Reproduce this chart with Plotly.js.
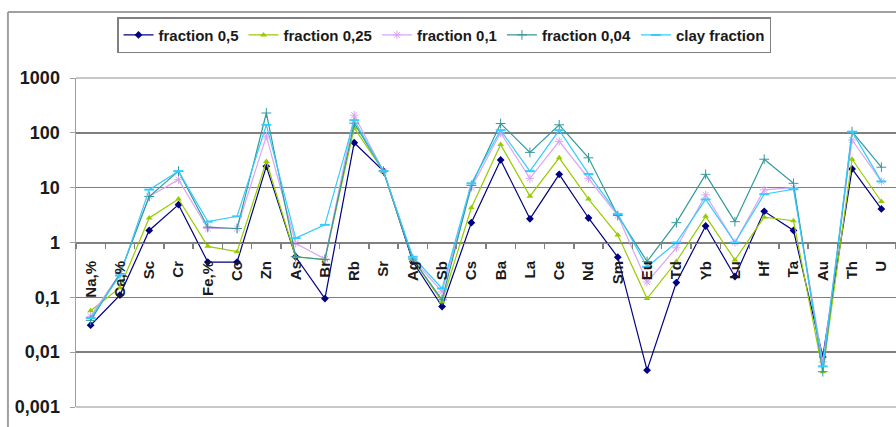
<!DOCTYPE html>
<html>
<head>
<meta charset="utf-8">
<script src="https://cdn.plot.ly/plotly-3.0.1.min.js"></script>
<style>html,body{margin:0;padding:0;background:#fff;}#chart{width:896px;height:427px;}</style>
</head>
<body>
<div id="chart"></div>
<script>
var categories = ["Na,%","Ca,%","Sc","Cr","Fe,%","Co","Zn","As","Br","Rb","Sr","Ag","Sb","Cs","Ba","La","Ce","Nd","Sm","Eu","Td","Yb","Lu","Hf","Ta","Au","Th","U"];
var frac05  = [0.031,0.11,1.66,4.9,0.44,0.44,24.5,0.55,0.095,66,20,0.45,0.068,2.3,32,2.7,17.5,2.8,0.54,0.0047,0.186,2.0,0.24,3.7,1.66,0.0082,22,4.1];
var frac025 = [0.057,0.15,2.8,6.2,0.85,0.68,30,0.55,0.49,123,20,0.5,0.083,4.3,61,7,35,6.2,1.37,0.095,0.45,3.0,0.48,2.9,2.5,0.0044,33,5.6];
var frac01  = [0.045,0.27,6.9,14,1.8,1.8,87,0.97,0.5,210,20,0.5,0.126,10,100,14.8,70,14.8,3.1,0.19,0.8,7.4,1.0,9.1,10,0.0066,74,13];
var frac004 = [0.038,0.27,6.9,20,1.9,1.8,230,0.55,0.49,150,20,0.5,0.09,11,148,44,140,35,3.1,0.45,2.3,17.5,2.4,33,12,0.0044,105,23.6];
var clay    = [0.042,0.25,9.2,20,2.4,3.0,140,1.2,2.1,170,20,0.55,0.145,12,112,20,112,17.8,3.3,0.36,1.0,6.1,1.0,7.6,9.4,0.0055,105,13];
var seriesNames = ["fraction 0,5","fraction 0,25","fraction 0,1","fraction 0,04","clay fraction"];
var yTickVals = [0.001,0.01,0.1,1,10,100,1000];
var yTickText = ["0,001","0,01","0,1","1","10","100","1000"];

var FONT = "Liberation Sans, Arial, sans-serif";
function tr(name, y, color, symbol, size, lw) {
  return {
    type: "scatter", mode: "lines+markers", name: name,
    x: categories, y: y,
    line: {color: color, width: 1.2},
    marker: {symbol: symbol, size: size, color: color, line: {color: color, width: lw}}
  };
}
var data = [
  tr(seriesNames[0], frac05, "#000080", "diamond", 6, 0),
  tr(seriesNames[1], frac025, "#99CC00", "triangle-up", 6, 0),
  tr(seriesNames[2], frac01, "#D9A6F2", "asterisk-open", 7, 1),
  tr(seriesNames[3], frac004, "#339999", "cross-thin-open", 7, 1),
  tr(seriesNames[4], clay, "#33CCFF", "line-ew-open", 7, 2)
];
var layout = {
  width: 896, height: 427,
  margin: {l: 76, r: 0, t: 78, b: 20},
  paper_bgcolor: "#ffffff", plot_bgcolor: "#ffffff",
  showlegend: true,
  font: {family: FONT, color: "#1a1a1a"},
  xaxis: {
    type: "category", range: [-0.5, 27.5],
    anchor: "free", position: 0.5,
    showline: true, linecolor: "#808080", linewidth: 1.5,
    ticks: "outside", tickson: "boundaries", ticklen: 5, tickcolor: "#808080", tickwidth: 1.5,
    tickangle: -90, ticklabelstandoff: 11,
    tickfont: {family: FONT, size: 15, weight: "bold", color: "#1a1a1a"},
    showgrid: false, zeroline: false, fixedrange: true
  },
  yaxis: {
    type: "log", range: [-3, 3],
    tickvals: yTickVals, ticktext: yTickText,
    showgrid: true, gridcolor: "#7f7f7f", gridwidth: 1.5,
    showline: true, linecolor: "#a0a0a0", linewidth: 1.5,
    ticks: "outside", ticklen: 5, tickcolor: "#a0a0a0", ticklabelstandoff: 6,
    tickfont: {family: FONT, size: 18, weight: "bold", color: "#1a1a1a"},
    zeroline: false, fixedrange: true
  },
  legend: {
    orientation: "h", x: 0.05, y: 1.185, xanchor: "left", yanchor: "top",
    bordercolor: "#808080", borderwidth: 1.5, bgcolor: "#ffffff",
    font: {family: FONT, size: 15, weight: "bold", color: "#1a1a1a"},
    itemwidth: 30
  },
  shapes: [
    {type: "line", xref: "paper", yref: "paper", x0: 0, x1: 1, y0: 1, y1: 1, line: {color: "#c8c8c8", width: 2}},
    {type: "line", xref: "paper", yref: "paper", x0: 0, x1: 1, y0: 0, y1: 0, line: {color: "#c8c8c8", width: 2}},
    {type: "line", xref: "paper", yref: "paper", x0: -0.083, x1: 1.02, y0: 1.2006, y1: 1.2006, line: {color: "#a0a0a0", width: 2}},
    {type: "line", xref: "paper", yref: "paper", x0: -0.083, x1: -0.083, y0: 1.2006, y1: -0.08, line: {color: "#a0a0a0", width: 2}}
  ]
};
Plotly.newPlot("chart", data, layout, {displayModeBar: false, staticPlot: true});
</script>
</body>
</html>
